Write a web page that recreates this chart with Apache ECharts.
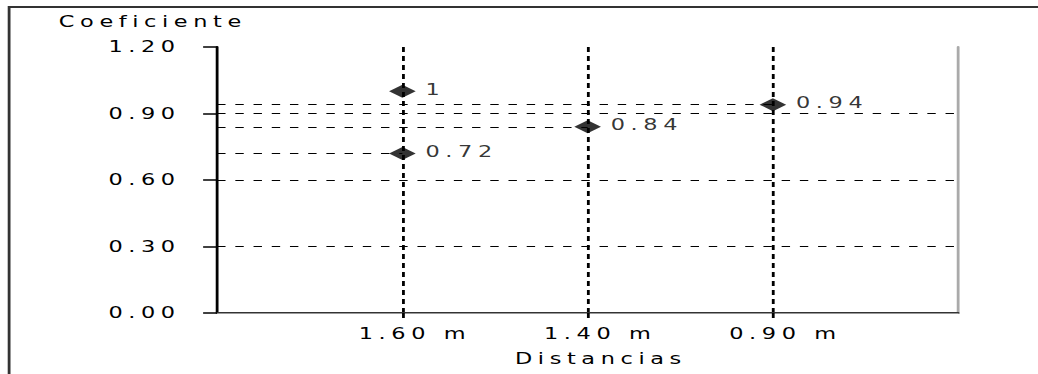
<!DOCTYPE html>
<html>
<head>
<meta charset="utf-8">
<script src="https://cdn.jsdelivr.net/npm/echarts@6/dist/echarts.min.js"></script>
<style>
  html, body { margin: 0; padding: 0; background: #fff; overflow: hidden; }
  /* the reference is stretched sideways, so draw narrow and stretch */
  #chart { width: 741px; height: 374px; transform: scaleX(1.4008); transform-origin: 0 0; }
  #chart text { letter-spacing: 4px; }
</style>
</head>
<body>
<div id="chart"></div>
<script>
  // categories on the x axis
  const categories = ['1.60 m', '1.40 m', '0.90 m']
  // y axis ticks
  const yTicks = [0, 0.3, 0.6, 0.9, 1.2]
  // measured points
  const pointCategory = ['1.60 m', '1.60 m', '1.40 m', '0.90 m']
  const pointValues = [1, 0.72, 0.84, 0.94]
  const pointLabels = ['1', '0.72', '0.84', '0.94']
  // dashed guides from the y axis to a point
  const guideCategory = ['1.60 m', '1.40 m', '0.90 m']
  const guideValues = [0.72, 0.84, 0.94]

  const font = 'DejaVu Sans'
  const axisData = [''].concat(categories, [''])
  const catIndex = c => categories.indexOf(c) + 1

  const chart = echarts.init(document.getElementById('chart'), null, {renderer: 'svg'})
  chart.setOption({
    animation: false,
    backgroundColor: '#fff',
    textStyle: {fontFamily: font, color: '#000'},
    title: {
      text: 'Coeficiente',
      left: 42,
      top: 14,
      padding: 0,
      textStyle: {fontFamily: font, fontSize: 16, fontWeight: 'normal', color: '#000'}
    },
    graphic: [{
      type: 'rect',
      silent: true,
      shape: {x: 6.5, y: 7, width: 800, height: 420},
      style: {fill: 'none', stroke: '#333', lineWidth: 2}
    }],
    grid: {left: 155, right: 57, top: 47, bottom: 61},
    xAxis: [{
      type: 'category',
      data: axisData,
      boundaryGap: false,
      name: 'Distancias',
      nameLocation: 'middle',
      nameGap: 38,
      nameTextStyle: {fontFamily: font, fontSize: 16, color: '#000', padding: [0, 0, 0, 19]},
      axisLine: {lineStyle: {color: '#333', width: 2}},
      axisTick: {
        show: true,
        interval: (i) => i > 0 && i < axisData.length - 1,
        length: 5,
        lineStyle: {color: '#000', width: 2}
      },
      axisLabel: {
        interval: 0,
        margin: 13,
        fontFamily: font,
        fontSize: 16,
        color: '#000',
        padding: [0, 0, 0, 18]
      },
      splitLine: {
        show: true,
        interval: (i) => i > 0 && i < axisData.length - 1,
        lineStyle: {color: '#000', width: 2, type: [5, 4]}
      }
    }, {
      type: 'category',
      data: axisData,
      boundaryGap: false,
      position: 'top',
      axisLine: {lineStyle: {color: '#999', width: 1}},
      axisTick: {show: false},
      axisLabel: {show: false},
      splitLine: {show: false}
    }],
    yAxis: [{
      type: 'value',
      min: yTicks[0],
      max: yTicks[yTicks.length - 1],
      interval: 0.3,
      axisLine: {show: true, lineStyle: {color: '#000', width: 2}},
      axisTick: {show: true, length: 10, lineStyle: {color: '#000', width: 1.5}},
      axisLabel: {
        margin: 26,
        fontFamily: font,
        fontSize: 16,
        color: '#000',
        formatter: v => v.toFixed(2)
      },
      splitLine: {
        show: true,
        showMinLine: false,
        showMaxLine: false,
        lineStyle: {color: '#000', width: 1, type: [6, 7]}
      }
    }, {
      type: 'value',
      position: 'right',
      min: yTicks[0],
      max: yTicks[yTicks.length - 1],
      interval: 0.3,
      axisLine: {show: true, lineStyle: {color: '#aaa', width: 2}},
      axisTick: {show: false},
      axisLabel: {show: false},
      splitLine: {show: false}
    }],
    series: [{
      type: 'scatter',
      symbol: 'diamond',
      symbolSize: [19, 13],
      itemStyle: {color: '#000'},
      data: pointValues.map((v, i) => ({
        value: [catIndex(pointCategory[i]), v],
        label: {formatter: pointLabels[i]}
      })),
      label: {
        show: true,
        position: 'right',
        distance: 7,
        offset: [0, -2],
        fontFamily: font,
        fontSize: 16,
        color: '#000'
      },
      markLine: {
        silent: true,
        symbol: ['none', 'none'],
        label: {show: false},
        lineStyle: {color: '#000', width: 1, type: [6, 7]},
        data: guideValues.map((v, i) => [
          {coord: [0, v]},
          {coord: [catIndex(guideCategory[i]), v]}
        ])
      },
      z: 5
    }]
  })
</script>
</body>
</html>
